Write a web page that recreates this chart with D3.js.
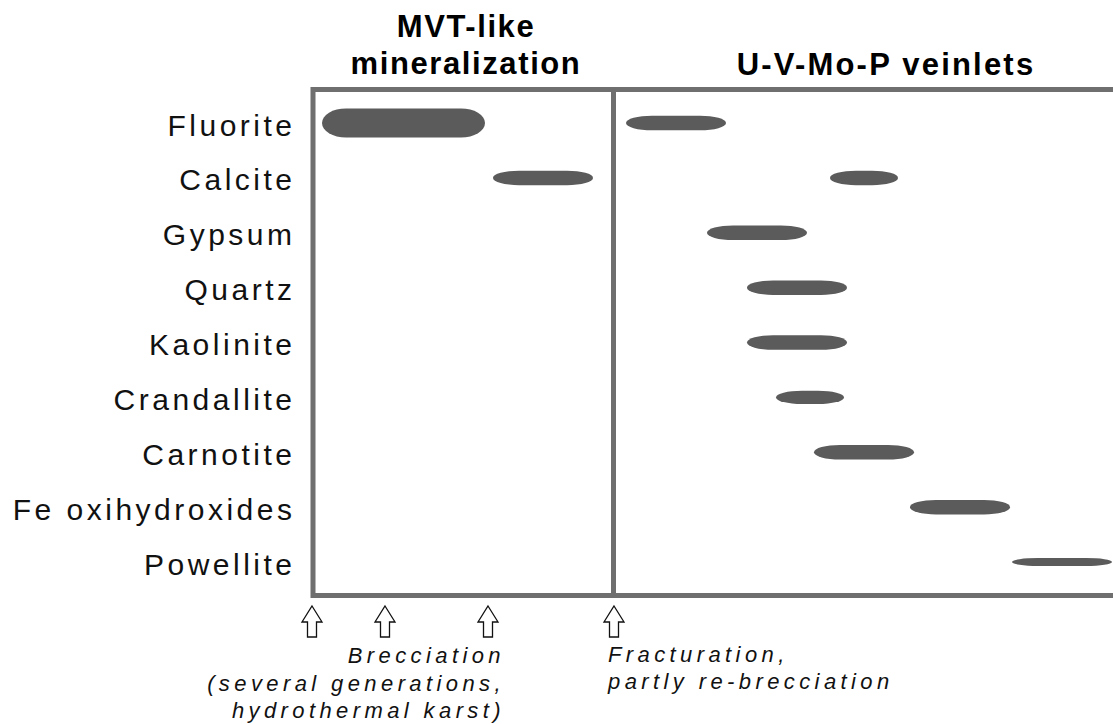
<!DOCTYPE html>
<html>
<head>
<meta charset="utf-8">
<script src="https://cdnjs.cloudflare.com/ajax/libs/d3/7.8.5/d3.min.js"></script>
<style>
  body { margin: 0; background: #fff; }
  svg { display: block; }
</style>
</head>
<body>
<div id="chart"></div>
<script>
// minerals, top to bottom
var minerals = ["Fluorite", "Calcite", "Gypsum", "Quartz", "Kaolinite",
                "Crandallite", "Carnotite", "Fe oxihydroxides", "Powellite"];

// one entry per bar (relative time units, frame runs 0..8, stage boundary at 3)
var barMineral   = ["Fluorite", "Calcite", "Fluorite", "Calcite", "Gypsum", "Quartz",
                    "Kaolinite", "Crandallite", "Carnotite", "Fe oxihydroxides", "Powellite"];
var barStart     = [0.09, 1.80, 3.13, 5.17, 3.94, 4.34, 4.34, 4.63, 5.01, 5.97, 6.99];
var barEnd       = [1.72, 2.80, 4.13, 5.85, 4.94, 5.34, 5.34, 5.31, 6.01, 6.97, 7.99];
var barAbundance = [2, 1, 1, 1, 1, 1, 1, 0.92, 1, 1, 0.55];

var stageNames  = [["MVT-like", "mineralization"], ["U-V-Mo-P veinlets"]];
var stageBreak  = 3;
var timeMax     = 8;

// deformation events marked by arrows
var eventTimes  = [0, 0.73, 1.76, 3.02];
var eventLeft   = ["Brecciation", "(several generations,", "hydrothermal karst)"];
var eventRight  = ["Fracturation,", "partly re-brecciation"];

var width = 1113, height = 724;

var svg = d3.select("#chart")
        .append("svg")
        .attr("width", width)
        .attr("height", height);

var x = d3.scaleLinear()
        .domain([0, timeMax])
        .range([313, 1113]);

var y = d3.scalePoint()
        .domain(minerals)
        .range([123, 562]);

var thick = d3.scaleLinear()
        .domain([0, 1])
        .range([0, 14.5]);

var frameTop = 89.5, frameBottom = 595.5;

// frame (open on the right)
svg.append("path")
        .attr("d", "M" + x(timeMax) + "," + frameTop + "H" + x(0) + "V" + frameBottom + "H" + x(timeMax))
        .attr("fill", "none")
        .attr("stroke", "#6f6f6f")
        .attr("stroke-width", 5);

svg.append("line")
        .attr("x1", x(stageBreak) + 0.5)
        .attr("x2", x(stageBreak) + 0.5)
        .attr("y1", frameTop)
        .attr("y2", frameBottom)
        .attr("stroke", "#6f6f6f")
        .attr("stroke-width", 5);

// stage titles
var titleFont = "'Liberation Sans', Arial, sans-serif";
svg.append("text")
        .attr("text-anchor", "middle")
        .attr("font-family", titleFont)
        .attr("font-weight", "bold")
        .attr("font-size", "31px")
        .attr("letter-spacing", "1.6px")
        .attr("fill", "#000")
        .selectAll("tspan")
        .data(stageNames[0])
        .join("tspan")
        .attr("x", (x(0) + x(stageBreak)) / 2 + 3)
        .attr("y", function (d, i) { return 37 + i * 37; })
        .text(function (d) { return d; });

svg.append("text")
        .attr("x", (x(stageBreak) + x(timeMax)) / 2 + 23)
        .attr("y", 75)
        .attr("text-anchor", "middle")
        .attr("font-family", titleFont)
        .attr("font-weight", "bold")
        .attr("font-size", "31px")
        .attr("letter-spacing", "2.2px")
        .attr("fill", "#000")
        .text(stageNames[1][0]);

// mineral labels
svg.selectAll("text.label")
        .data(minerals)
        .join("text")
        .attr("class", "label")
        .attr("x", 295.5)
        .attr("y", function (d) { return y(d) + 12.5; })
        .attr("text-anchor", "end")
        .attr("font-family", titleFont)
        .attr("font-size", "30px")
        .attr("letter-spacing", "3.5px")
        .attr("fill", "#111")
        .text(function (d) { return d; });

// bars
svg.selectAll("rect.bar")
        .data(barMineral)
        .join("rect")
        .attr("class", "bar")
        .attr("x", function (d, i) { return x(barStart[i]); })
        .attr("width", function (d, i) { return x(barEnd[i]) - x(barStart[i]); })
        .attr("y", function (d, i) { return y(d) - thick(barAbundance[i]) / 2; })
        .attr("height", function (d, i) { return thick(barAbundance[i]); })
        .attr("rx", function (d, i) { return barAbundance[i] > 1.5 ? 24 : 26; })
        .attr("ry", function (d, i) { return thick(barAbundance[i]) / 2; })
        .attr("fill", "#5b5b5b");

// hollow up-arrows
var arrowPath = "M0,0 L10,16 L4.5,16 L4.5,31 L-4.5,31 L-4.5,16 L-10,16 Z";
svg.selectAll("path.arrow")
        .data(eventTimes)
        .join("path")
        .attr("class", "arrow")
        .attr("d", arrowPath)
        .attr("transform", function (d) { return "translate(" + (x(d) - 1) + ",606)"; })
        .attr("fill", "#fff")
        .attr("stroke", "#111")
        .attr("stroke-width", 1.3);

// event notes
svg.append("text")
        .attr("text-anchor", "end")
        .attr("font-family", titleFont)
        .attr("font-style", "italic")
        .attr("font-size", "22px")
        .attr("letter-spacing", "4.4px")
        .attr("fill", "#111")
        .selectAll("tspan")
        .data(eventLeft)
        .join("tspan")
        .attr("x", 505)
        .attr("y", function (d, i) { return 663 + i * 27.5; })
        .text(function (d) { return d; });

svg.append("text")
        .attr("font-family", titleFont)
        .attr("font-style", "italic")
        .attr("font-size", "22px")
        .attr("letter-spacing", "4.4px")
        .attr("fill", "#111")
        .selectAll("tspan")
        .data(eventRight)
        .join("tspan")
        .attr("x", 608)
        .attr("y", function (d, i) { return 662 + i * 27; })
        .text(function (d) { return d; });
</script>
</body>
</html>
